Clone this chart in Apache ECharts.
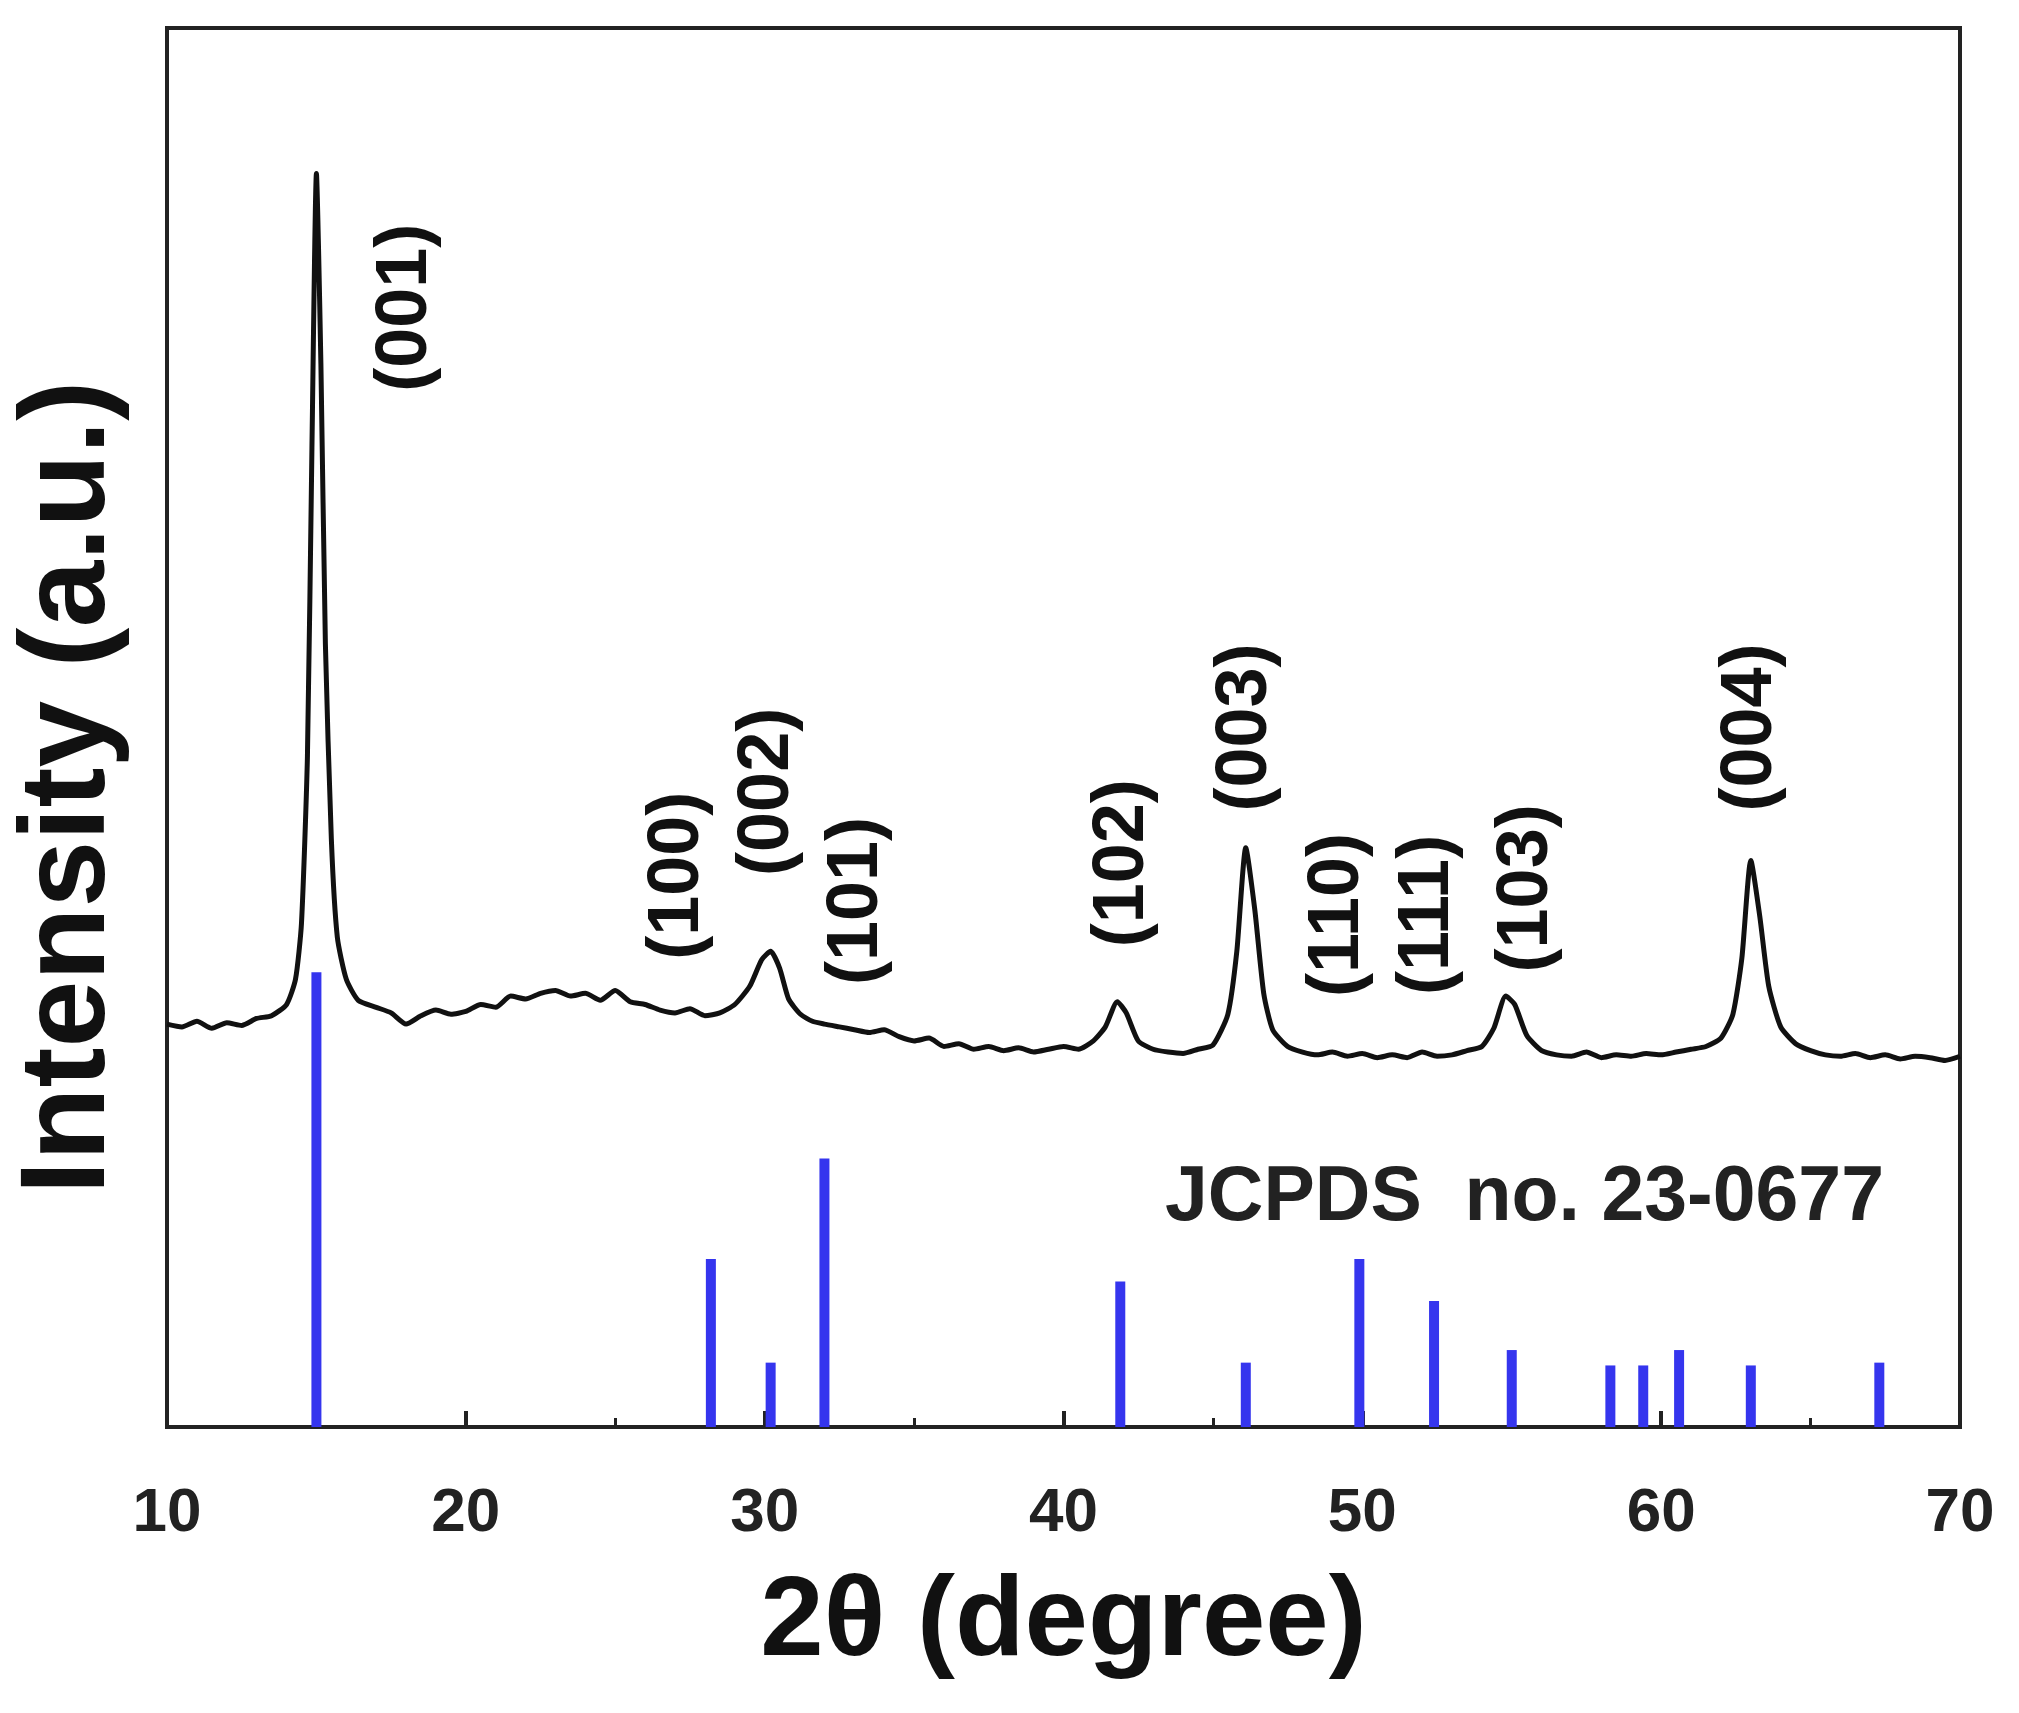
<!DOCTYPE html><html><head><meta charset="utf-8">
<script src="https://cdn.jsdelivr.net/npm/echarts@6/dist/echarts.min.js"></script>
<style>html,body{margin:0;background:#fff}#c{width:2019px;height:1713px}</style></head><body><div id="c"></div>
<script>
const xrdX = [10,10.5,11,11.5,12,12.5,13,13.5,14,14.3,14.5,14.7,14.85,15,15.15,15.3,15.5,15.7,16,16.4,17,17.5,18,18.5,19,19.5,20,20.5,21,21.5,22,22.5,23,23.5,24,24.5,25,25.5,26,26.5,27,27.5,28,28.5,29,29.5,29.9,30.2,30.5,30.8,31.2,31.6,32,32.5,33,33.5,34,34.5,35,35.5,36,36.5,37,37.5,38,38.5,39,39.5,40,40.5,41,41.4,41.8,42.1,42.5,43,43.5,44,44.5,45,45.5,45.8,46.1,46.4,46.7,47,47.5,48,48.5,49,49.5,50,50.5,51,51.5,52,52.5,53,53.5,54,54.4,54.8,55.1,55.5,56,56.5,57,57.5,58,58.5,59,59.5,60,60.5,61,61.5,62,62.4,62.7,63,63.3,63.6,64,64.5,65,65.5,66,66.5,67,67.5,68,68.5,69,69.5,70];
const xrdY = [28.8,28.6,29.0,28.5,28.9,28.7,29.2,29.4,30.2,32,36,48,70,89.6,76,56,42,35,32,30.5,30,29.6,28.8,29.4,29.8,29.5,29.7,30.2,30.0,30.8,30.6,31.0,31.2,30.8,31.0,30.5,31.2,30.4,30.2,29.8,29.6,29.9,29.4,29.6,30.2,31.5,33.4,34.0,32.8,30.6,29.5,29.0,28.8,28.6,28.4,28.2,28.4,27.9,27.6,27.8,27.2,27.4,27.0,27.2,26.9,27.1,26.8,27.0,27.2,27.0,27.6,28.6,30.4,29.6,27.6,27.0,26.8,26.7,27.0,27.3,29.5,34,41.4,37,31,28.4,27.2,26.8,26.6,26.8,26.5,26.7,26.4,26.6,26.4,26.8,26.5,26.6,26.9,27.2,28.5,30.8,30.2,28,26.9,26.6,26.5,26.8,26.4,26.6,26.5,26.7,26.6,26.8,27.0,27.2,27.8,29.5,33.5,40.5,36.5,31.5,28.6,27.4,26.9,26.6,26.5,26.7,26.4,26.6,26.3,26.5,26.4,26.2,26.5];
const stickX = [15,28.2,30.2,32,41.9,46.1,49.9,52.4,55,58.3,59.4,60.6,63,67.3];
const stickY = [32.5,12,4.6,19.2,10.4,4.6,12,9,5.5,4.4,4.4,5.5,4.4,4.6];
const peakLabels = ['(001)','(100)','(002)','(101)','(102)','(003)','(110)','(111)','(103)','(004)'];
const peakLabelX = [18,27.1,30.1,33.1,42,46.1,49.2,52.2,55.5,63];
const peakLabelY = [80,39.4,45.4,37.6,40.3,50,36.6,36.6,38.5,50];

const F = 'Liberation Sans, Arial, sans-serif';
const chart = echarts.init(document.getElementById('c'));
chart.setOption({
  animation:false,
  grid:{left:167,right:59,top:28,bottom:286,show:true,borderColor:'#222',borderWidth:4,containLabel:false,outerBoundsMode:'none'},
  xAxis:{type:'value',min:10,max:70,interval:10,
    axisLine:{lineStyle:{color:'#222',width:4}},
    axisTick:{inside:true,length:16,lineStyle:{width:4,color:'#222'}},
    minorTick:{show:true,splitNumber:2,length:9,lineStyle:{width:3,color:'#222'}},
    splitLine:{show:false},
    axisLabel:{fontSize:62,fontWeight:'bold',color:'#222',fontFamily:F,margin:56},
    name:'2θ (degree)',nameLocation:'middle',nameGap:140,
    nameTextStyle:{fontSize:114,fontWeight:'bold',color:'#111',fontFamily:F}},
  yAxis:{type:'value',min:0,max:100,axisLabel:{show:false},axisTick:{show:false},splitLine:{show:false},
    axisLine:{lineStyle:{color:'#222',width:4}},
    name:'Intensity (a.u.)',nameLocation:'middle',nameGap:36,
    nameTextStyle:{fontSize:120,fontWeight:'bold',color:'#111',fontFamily:F,padding:[0,120,0,0]}},
  series:[
    {type:'line',data:xrdX.map((x,i)=>[x,xrdY[i]]),showSymbol:false,smooth:0.2,
      lineStyle:{color:'#111',width:5}},
    {type:'bar',data:stickX.map((x,i)=>[x,stickY[i]]),barWidth:10,itemStyle:{color:'#3535ee'}},
    {type:'scatter',data:peakLabelX.map((x,i)=>[x,peakLabelY[i],peakLabels[i]]),symbolSize:1,
      itemStyle:{opacity:0},
      label:{show:true,position:'inside',rotate:90,formatter:p=>p.data[2],
        fontSize:72,fontWeight:'bold',color:'#111',opacity:1,fontFamily:F}}
  ],
  graphic:[{type:'text',left:1165,top:1160,style:{text:'JCPDS  no. 23-0677',fontSize:77,fontWeight:'bold',fill:'#222',fontFamily:F}}]
});
</script></body></html>
